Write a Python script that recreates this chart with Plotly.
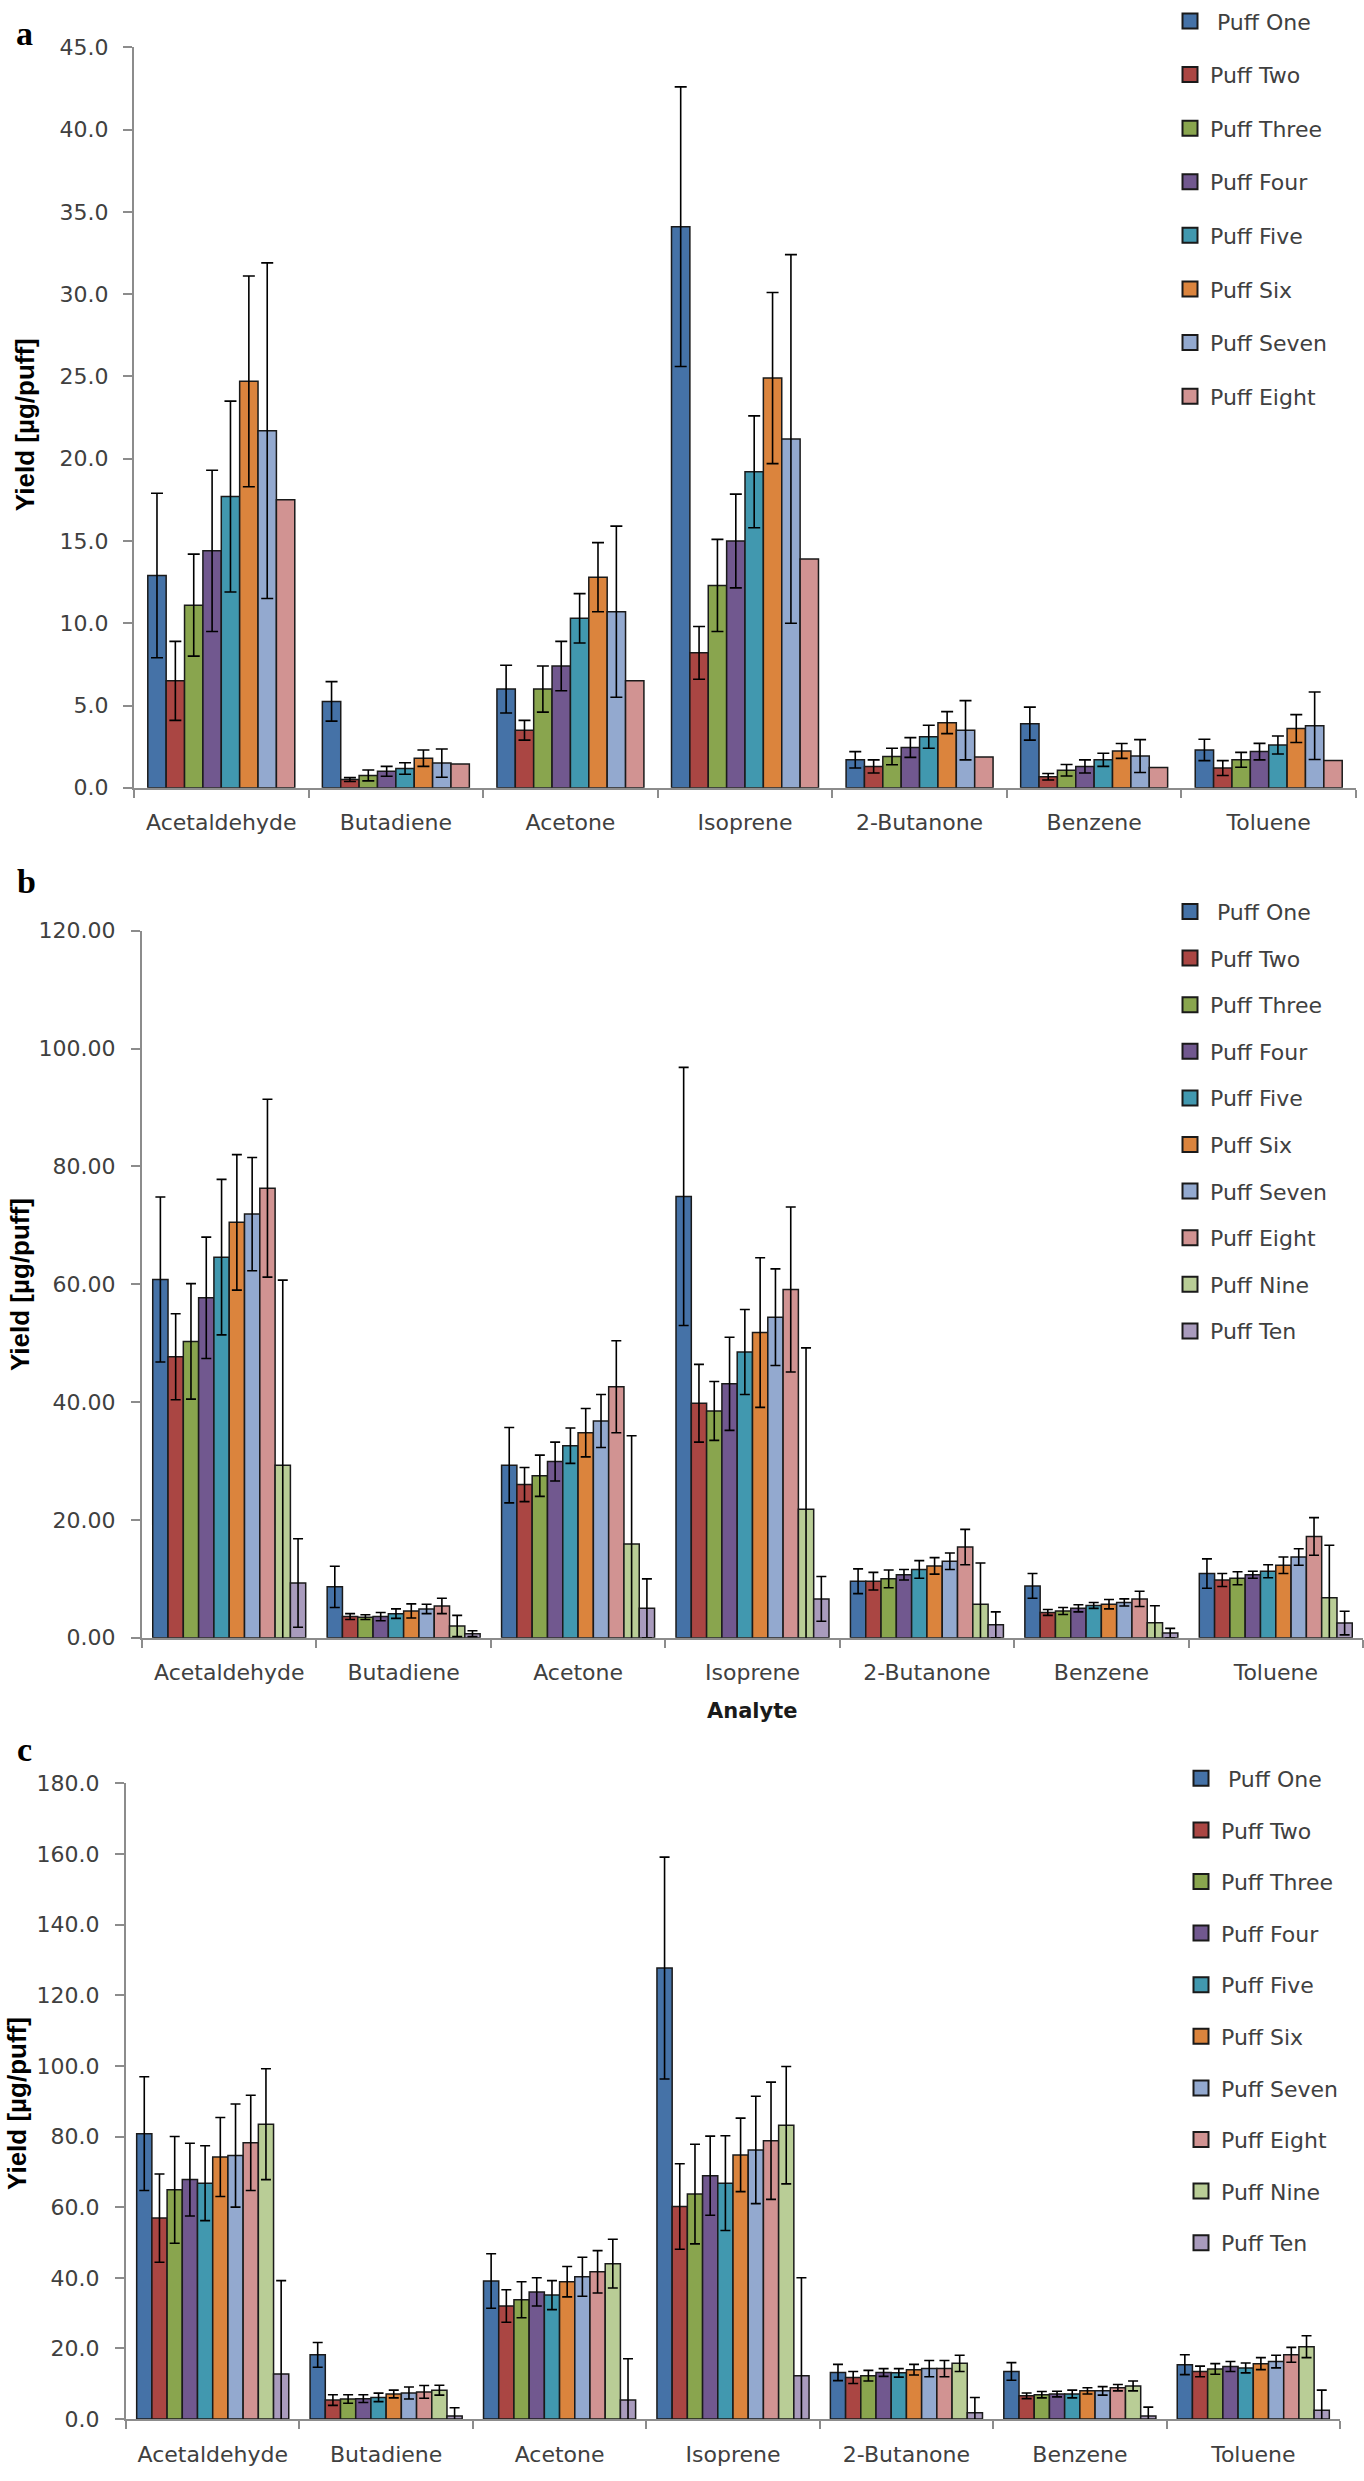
import plotly.graph_objects as go

# ---------------- data ----------------
categories = ["Acetaldehyde", "Butadiene", "Acetone", "Isoprene", "2-Butanone", "Benzene", "Toluene"]
puff_names = ["\u00a0Puff One", "Puff Two", "Puff Three", "Puff Four", "Puff Five",
              "Puff Six", "Puff Seven", "Puff Eight", "Puff Nine", "Puff Ten"]
puff_colors = ["#4572A7", "#AA4643", "#89A54E", "#71588F", "#4198AF",
               "#DB843D", "#93A9CF", "#D19392", "#B9CD96", "#A99BBD"]

# panel a: 8 puffs
a_values = [
    [12.9, 5.25, 6.0, 34.1, 1.7, 3.9, 2.3],
    [6.5, 0.5, 3.5, 8.2, 1.3, 0.67, 1.2],
    [11.1, 0.75, 6.0, 12.3, 1.9, 1.07, 1.7],
    [14.4, 1.0, 7.4, 15.0, 2.45, 1.3, 2.2],
    [17.7, 1.17, 10.3, 19.2, 3.1, 1.7, 2.6],
    [24.7, 1.8, 12.8, 24.9, 3.96, 2.24, 3.6],
    [21.7, 1.5, 10.7, 21.2, 3.5, 1.93, 3.77],
    [17.5, 1.45, 6.5, 13.9, 1.87, 1.23, 1.66],
]
a_errors = [
    [5.0, 1.2, 1.45, 8.5, 0.5, 1.0, 0.65],
    [2.4, 0.12, 0.6, 1.6, 0.4, 0.2, 0.45],
    [3.1, 0.33, 1.4, 2.8, 0.5, 0.35, 0.45],
    [4.9, 0.3, 1.5, 2.85, 0.6, 0.4, 0.5],
    [5.8, 0.35, 1.5, 3.4, 0.7, 0.4, 0.55],
    [6.4, 0.5, 2.1, 5.2, 0.67, 0.45, 0.85],
    [10.2, 0.86, 5.2, 11.2, 1.8, 1.0, 2.05],
    None,
]

# panel b: 10 puffs
b_values = [
    [60.8, 8.65, 29.3, 74.9, 9.6, 8.8, 10.9],
    [47.7, 3.6, 26.0, 39.8, 9.6, 4.3, 9.8],
    [50.3, 3.5, 27.5, 38.5, 10.0, 4.55, 10.1],
    [57.7, 3.6, 29.9, 43.1, 10.7, 5.0, 10.7],
    [64.6, 4.1, 32.6, 48.5, 11.6, 5.5, 11.3],
    [70.5, 4.55, 34.8, 51.8, 12.2, 5.7, 12.3],
    [71.9, 4.9, 36.8, 54.4, 13.0, 6.0, 13.7],
    [76.3, 5.4, 42.6, 59.1, 15.4, 6.6, 17.2],
    [29.3, 2.0, 15.9, 21.8, 5.7, 2.55, 6.8],
    [9.3, 0.7, 5.0, 6.6, 2.2, 0.8, 2.5],
]
b_errors = [
    [14.0, 3.5, 6.4, 21.9, 2.1, 2.1, 2.5],
    [7.3, 0.5, 2.9, 6.6, 1.5, 0.5, 1.1],
    [9.8, 0.4, 3.5, 5.0, 1.5, 0.6, 1.1],
    [10.3, 0.7, 3.3, 7.9, 0.9, 0.6, 0.6],
    [13.2, 0.8, 3.0, 7.2, 1.5, 0.5, 1.1],
    [11.5, 1.2, 4.1, 12.7, 1.4, 0.8, 1.4],
    [9.6, 0.8, 4.5, 8.2, 1.4, 0.6, 1.4],
    [15.1, 1.3, 7.8, 14.0, 3.0, 1.3, 3.2],
    [31.4, 1.8, 18.4, 27.4, 7.0, 2.9, 8.9],
    [7.5, 0.5, 5.0, 3.8, 2.2, 0.8, 2.0],
]

# panel c: 10 puffs
c_values = [
    [80.8, 18.2, 39.1, 127.7, 13.2, 13.5, 15.4],
    [56.9, 5.4, 32.0, 60.2, 11.8, 6.6, 13.5],
    [64.9, 5.7, 33.8, 63.7, 12.3, 6.9, 14.2],
    [67.8, 5.8, 36.0, 68.9, 13.2, 7.1, 14.9],
    [66.8, 6.15, 35.1, 66.8, 13.1, 7.1, 14.5],
    [74.2, 7.1, 38.9, 74.8, 14.0, 8.0, 15.7],
    [74.6, 7.4, 40.3, 76.2, 14.3, 8.0, 16.3],
    [78.2, 7.7, 41.7, 78.8, 14.3, 8.9, 18.2],
    [83.5, 8.2, 44.0, 83.2, 15.8, 9.4, 20.5],
    [12.8, 0.9, 5.4, 12.3, 1.8, 0.9, 2.5],
]
c_errors = [
    [16.1, 3.5, 7.7, 31.4, 2.3, 2.5, 2.8],
    [12.5, 1.5, 4.6, 12.1, 1.7, 0.8, 1.5],
    [15.1, 1.2, 5.1, 14.1, 1.5, 0.9, 1.5],
    [10.3, 1.1, 4.0, 11.2, 1.1, 0.8, 1.4],
    [10.6, 1.2, 4.1, 13.4, 1.2, 1.1, 1.4],
    [11.2, 1.1, 4.3, 10.4, 1.5, 0.9, 1.7],
    [14.6, 1.7, 5.5, 15.2, 2.3, 1.2, 1.8],
    [13.5, 1.8, 6.0, 16.6, 2.3, 0.9, 2.1],
    [15.7, 1.4, 6.9, 16.6, 2.3, 1.4, 3.1],
    [26.4, 2.3, 11.7, 27.7, 4.3, 2.5, 5.7],
]

# ---------------- layout helpers ----------------
W, H = 1364, 2481


def px_x(x):
    return x / W


def px_y(y):
    return (H - y) / H


TICK_FONT = dict(family="DejaVu Sans", size=22, color="#404040")
AXIS_COLOR = "#8c8c8c"

panels = [
    dict(vals=a_values, errs=a_errors, xa="x", ya="y", leg="legend",
         xd=(134, 1356), yd=(34.7, 783), yr=45, dt=5, fmt=".1f", gw=0.842, cap=6,
         ystand=10),
    dict(vals=b_values, errs=b_errors, xa="x2", ya="y2", leg="legend2",
         xd=(142, 1363), yd=(927.4, 1642), yr=120, dt=20, fmt=".2f", gw=0.877, cap=5,
         ystand=11),
    dict(vals=c_values, errs=c_errors, xa="x3", ya="y3", leg="legend3",
         xd=(126, 1340), yd=(1789, 2431.6), yr=180, dt=20, fmt=".1f", gw=0.877, cap=5,
         ystand=11),
]

fig = go.Figure()

for p in panels:
    n = len(p["vals"])
    bw = p["gw"] / n
    for i in range(n):
        err = p["errs"][i]
        fig.add_trace(go.Bar(
            x=categories,
            y=p["vals"][i],
            name=puff_names[i],
            xaxis=p["xa"], yaxis=p["ya"],
            width=bw,
            offset=-p["gw"] / 2 + i * bw,
            marker=dict(color=puff_colors[i], line=dict(color="#1a1a1a", width=1.5)),
            error_y=dict(type="data", array=err, visible=err is not None,
                         color="#000000", thickness=1.6, width=p["cap"]),
            legend=p["leg"],
            legendgroup=p["leg"] + str(i),
            showlegend=False,
        ))
    # legend entries (square swatches like the original legend)
    for i in range(n):
        fig.add_trace(go.Scatter(
            x=[None], y=[None], mode="markers",
            name=puff_names[i],
            xaxis=p["xa"], yaxis=p["ya"],
            marker=dict(symbol="square", size=15, color=puff_colors[i],
                        line=dict(color="#1a1a1a", width=2)),
            legend=p["leg"],
            legendgroup=p["leg"] + str(i),
            showlegend=True,
            hoverinfo="skip",
        ))

layout = dict(
    width=W, height=H, autosize=False,
    margin=dict(l=0, r=0, t=0, b=0),
    paper_bgcolor="white", plot_bgcolor="white",
    barmode="group",
    font=dict(family="DejaVu Sans", color="#404040"),
)

for k, p in enumerate(panels):
    sfx = "" if k == 0 else str(k + 1)
    layout["xaxis" + sfx] = dict(
        domain=[px_x(p["xd"][0]), px_x(p["xd"][1])],
        anchor="y" + sfx,
        type="category",
        range=[-0.5, len(categories) - 0.5],
        showline=True, linecolor=AXIS_COLOR, linewidth=2,
        ticks="outside", tickson="boundaries", ticklen=8, tickwidth=2, tickcolor=AXIS_COLOR,
        showgrid=False, zeroline=False,
        tickfont=TICK_FONT, ticklabelstandoff=14,
    )
    layout["yaxis" + sfx] = dict(
        domain=[px_y(p["yd"][1]), px_y(p["yd"][0])],
        anchor="x" + sfx,
        range=[0, p["yr"]], dtick=p["dt"], tick0=0, tickformat=p["fmt"],
        showline=True, linecolor=AXIS_COLOR, linewidth=2,
        ticks="outside", ticklen=9, tickwidth=2, tickcolor=AXIS_COLOR,
        showgrid=False, zeroline=False,
        tickfont=TICK_FONT, ticklabelstandoff=p["ystand"],
    )

legend_common = dict(
    font=dict(family="DejaVu Sans", size=22, color="#404040"),
    bgcolor="rgba(0,0,0,0)", borderwidth=0,
    xanchor="left", yanchor="top", orientation="v",
    itemclick=False, itemdoubleclick=False,
)
layout["legend"] = dict(legend_common, x=px_x(1170), y=px_y(-13), tracegroupgap=22)
layout["legend2"] = dict(legend_common, x=px_x(1170), y=px_y(887), tracegroupgap=15)
layout["legend3"] = dict(legend_common, x=px_x(1181), y=px_y(1763), tracegroupgap=20)

fig.update_layout(**layout)

annotations = []
# panel letters
for letter, x, y in [("a", 24.6, 20.4), ("b", 26, 877.6), ("c", 24.5, 1754.5)]:
    annotations.append(dict(text="<b>" + letter + "</b>", x=px_x(x), y=px_y(y),
                            xref="paper", yref="paper",
                            xanchor="center", yanchor="middle", showarrow=False,
                            font=dict(family="Liberation Serif", size=34, color="#000000")))
# y titles
for x, y in [(24.5, 416), (19.5, 1285), (17.5, 2112.6)]:
    annotations.append(dict(text="<b>Yield [µg/puff]</b>", x=px_x(x), y=px_y(y),
                            xref="paper", yref="paper", xanchor="center", yanchor="middle",
                            showarrow=False, textangle=-90,
                            font=dict(family="Liberation Sans", size=26, color="#000000")))
# x title of panel b
annotations.append(dict(text="<b>Analyte</b>", x=px_x(752.5), y=px_y(1716), xref="paper", yref="paper",
                        xanchor="center", yanchor="middle", showarrow=False,
                        font=dict(family="DejaVu Sans", size=21, color="#1a1a1a")))

fig.update_layout(annotations=annotations)

fig.write_html("out.html", config={"displayModeBar": False},
               post_script="document.body.style.margin='0px';")
